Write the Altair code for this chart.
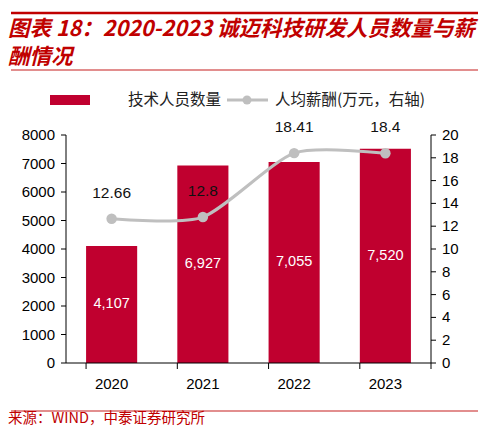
import altair as alt
import pandas as pd

years = ["2020", "2021", "2022", "2023"]
staff = [4107, 6927, 7055, 7520]
salary = [12.66, 12.8, 18.41, 18.4]
left_ticks = [0, 1000, 2000, 3000, 4000, 5000, 6000, 7000, 8000]
right_ticks = [0, 2, 4, 6, 8, 10, 12, 14, 16, 18, 20]

title_line1 = "图表 18：2020-2023 诚迈科技研发人员数量与薪"
title_line2 = "酬情况"
legend_bar = "技术人员数量"
legend_line = "人均薪酬(万元，右轴)"
source = "来源：WIND，中泰证券研究所"

df = pd.DataFrame({"year": years, "staff": staff, "salary": salary})
lt = pd.DataFrame({"v": left_ticks})
rt = pd.DataFrame({"v": right_ticks})
one = pd.DataFrame({"k": [0]})

LEFT_MAX = 8000
RIGHT_MAX = 20
RATIO = LEFT_MAX / RIGHT_MAX  # right axis value -> shared scale

RED = "#c0002f"
GREY = "#bfbfbf"
NUM_FONT = "Liberation Sans"
CJK = "Noto Sans CJK SC"
W, H = 365, 228

xscale = alt.Scale(paddingInner=0.44, paddingOuter=0.22)
yscale = alt.Scale(domain=[0, LEFT_MAX], nice=False)
X = alt.X("year:N", scale=xscale, axis=None)

def Y(field):
    return alt.Y(field, scale=yscale, axis=None)

bars = alt.Chart(df).mark_bar(color=RED).encode(x=X, y=Y("staff:Q"))
bar_labels = alt.Chart(df).transform_calculate(mid="datum.staff / 2").mark_text(
    color="white", font=NUM_FONT, fontSize=14.5, baseline="middle"
).encode(x=X, y=Y("mid:Q"), text=alt.Text("staff:Q", format=","))

sal = alt.Chart(df).transform_calculate(pos=f"datum.salary * {RATIO}")
line = sal.mark_line(color=GREY, strokeWidth=3, interpolate="cardinal", tension=0.3).encode(
    x=X, y=Y("pos:Q"))
pts = sal.mark_circle(color=GREY, size=110, opacity=1).encode(x=X, y=Y("pos:Q"))
pt_labels = sal.mark_text(
    color="#111", font=NUM_FONT, fontSize=15.5, dy=-26, baseline="middle"
).encode(x=X, y=Y("pos:Q"), text=alt.Text("salary:Q"))

AX = "#000"
# left axis
l_dom = alt.Chart(one).mark_rule(color=AX, strokeWidth=1).encode(
    x=alt.value(0), y=alt.value(0), y2=alt.value(H))
l_ticks = alt.Chart(lt).mark_rule(color=AX, strokeWidth=1).encode(
    x=alt.value(-5), x2=alt.value(0), y=Y("v:Q"))
l_labels = alt.Chart(lt).mark_text(
    font=NUM_FONT, fontSize=15, color=AX, align="right", baseline="middle"
).encode(x=alt.value(-11), y=Y("v:Q"), text=alt.Text("v:Q", format="d"))
# right axis
r_dom = alt.Chart(one).mark_rule(color=AX, strokeWidth=1).encode(
    x=alt.value(W), y=alt.value(0), y2=alt.value(H))
rsrc = alt.Chart(rt).transform_calculate(pos=f"datum.v * {RATIO}")
r_ticks = rsrc.mark_rule(color=AX, strokeWidth=1).encode(
    x=alt.value(W), x2=alt.value(W + 5), y=Y("pos:Q"))
r_labels = rsrc.mark_text(
    font=NUM_FONT, fontSize=15, color=AX, align="left", baseline="middle"
).encode(x=alt.value(W + 11), y=Y("pos:Q"), text=alt.Text("v:Q", format="d"))
# x axis
x_dom = alt.Chart(one).mark_rule(color=AX, strokeWidth=1).encode(
    x=alt.value(0), x2=alt.value(W), y=alt.value(H))
x_ticks = alt.Chart(df).mark_rule(color=AX, strokeWidth=1).encode(
    x=alt.X("year:N", scale=xscale, axis=None, bandPosition=0),
    y=alt.value(H), y2=alt.value(H + 6))
x_end = alt.Chart(one).mark_rule(color=AX, strokeWidth=1).encode(
    x=alt.value(W), y=alt.value(H), y2=alt.value(H + 6))
x_labels = alt.Chart(df).mark_text(
    font=NUM_FONT, fontSize=15, color=AX, baseline="middle"
).encode(x=X, y=alt.value(H + 21), text="year:N")

L, R = -58, 414
deco = [
    alt.Chart(one).mark_rule(color="#c00000", strokeWidth=2.5).encode(
        x=alt.value(L + 3), x2=alt.value(R - 2), y=alt.value(-122)),
    alt.Chart(one).mark_rule(color="#d96868", strokeWidth=1.5).encode(
        x=alt.value(L + 3), x2=alt.value(R - 2), y=alt.value(-65)),
    alt.Chart(one).mark_rule(color="#d96868", strokeWidth=1.5).encode(
        x=alt.value(L + 3), x2=alt.value(R - 2), y=alt.value(276)),
    alt.Chart(one).mark_text(
        text=title_line1, font=CJK, fontSize=21.5, fontWeight="bold", fontStyle="italic",
        color="#c00000", align="left", baseline="middle").encode(
        x=alt.value(L), y=alt.value(-105)),
    alt.Chart(one).mark_text(
        text=title_line2, font=CJK, fontSize=21.5, fontWeight="bold", fontStyle="italic",
        color="#c00000", align="left", baseline="middle").encode(
        x=alt.value(L), y=alt.value(-77)),
    alt.Chart(one).mark_rect(color=RED).encode(
        x=alt.value(-16), x2=alt.value(24), y=alt.value(-40), y2=alt.value(-30)),
    alt.Chart(one).mark_text(
        text=legend_bar, font=CJK, fontSize=15.5, color="#222", align="left", baseline="middle").encode(
        x=alt.value(62), y=alt.value(-35)),
    alt.Chart(one).mark_rule(color=GREY, strokeWidth=3).encode(
        x=alt.value(161), x2=alt.value(202), y=alt.value(-35)),
    alt.Chart(one).mark_circle(color=GREY, size=80, opacity=1).encode(
        x=alt.value(181), y=alt.value(-35)),
    alt.Chart(one).mark_text(
        text=legend_line, font=CJK, fontSize=15.5, color="#222", align="left", baseline="middle").encode(
        x=alt.value(209), y=alt.value(-35)),
    alt.Chart(one).mark_text(
        text=source, font=CJK, fontSize=14.5, color="#c00000", align="left", baseline="middle").encode(
        x=alt.value(L), y=alt.value(284)),
]

chart = alt.layer(
    bars, bar_labels, line, pts, pt_labels,
    l_dom, l_ticks, l_labels, r_dom, r_ticks, r_labels,
    x_dom, x_ticks, x_end, x_labels, *deco
).properties(
    width=W, height=H,
    padding={"left": 58, "top": 127, "right": 49, "bottom": 63},
    autosize=alt.AutoSizeParams(type="none"),
).configure_view(strokeWidth=0)

chart.save("out.html", embed_options={"renderer": "svg", "actions": False})
